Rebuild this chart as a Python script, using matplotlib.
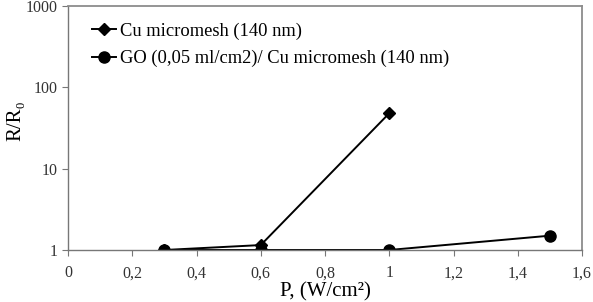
import matplotlib.pyplot as plt
from matplotlib.ticker import FixedLocator, FixedFormatter, NullLocator

plt.rcParams['font.family'] = ['Liberation Serif', 'DejaVu Serif']

# data
cu_p = [0.3, 0.6, 1.0]
cu_r = [1.0, 1.15, 48.0]
go_p = [0.3, 0.6, 1.0, 1.5]
go_r = [1.0, 1.0, 1.0, 1.5]

x_ticks = [0, 0.2, 0.4, 0.6, 0.8, 1.0, 1.2, 1.4, 1.6]
x_labels = ['0', '0,2', '0,4', '0,6', '0,8', '1', '1,2', '1,4', '1,6']
y_ticks = [1, 10, 100, 1000]
y_labels = ['1', '10', '100', '1000']

fig = plt.figure(figsize=(5.93, 3.02), dpi=100)
ax = fig.add_axes([68 / 593, 52 / 302, 514 / 593, 244 / 302])

ax.plot(cu_p, cu_r, color='black', lw=1.4, marker='D', ms=6,
        label='Cu micromesh (140 nm)')
ax.plot(go_p, go_r, color='black', lw=1.4, marker='o', ms=8,
        label='GO (0,05 ml/cm2)/ Cu micromesh (140 nm)')

ax.set_yscale('log')
ax.set_xlim(0, 1.6)
ax.set_ylim(1, 1000)
ax.xaxis.set_major_locator(FixedLocator(x_ticks))
ax.xaxis.set_major_formatter(FixedFormatter(x_labels))
ax.yaxis.set_major_locator(FixedLocator(y_ticks))
ax.yaxis.set_major_formatter(FixedFormatter(y_labels))
ax.yaxis.set_minor_locator(NullLocator())

for side in ['top', 'right']:
    ax.spines[side].set_color('#8c8c8c')
    ax.spines[side].set_linewidth(1.3)
for side in ['left', 'bottom']:
    ax.spines[side].set_color('#777777')
    ax.spines[side].set_linewidth(1.0)

ax.tick_params(axis='both', direction='out', length=4, color='#777777',
               labelsize=11.5, labelcolor='#333333')
ax.tick_params(axis='x', pad=7)

ax.set_xlabel('P, (W/cm²)', fontsize=15, labelpad=1)
ax.set_ylabel('R/R₀', fontsize=15)
ax.yaxis.set_label_coords(-0.083, 0.53)

ax.legend(loc='upper left', bbox_to_anchor=(0.015, 1.0), frameon=False,
          fontsize=13.3, handlelength=1.3, handletextpad=0.2,
          labelspacing=0.55)

fig.savefig('out.png', dpi=100)
